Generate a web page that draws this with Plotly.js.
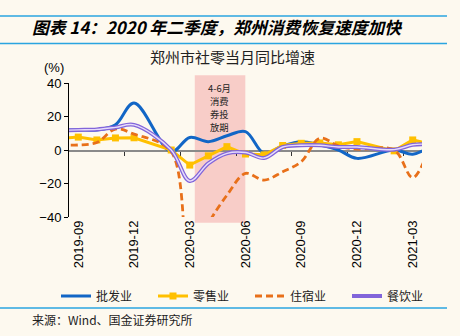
<!DOCTYPE html>
<html>
<head>
<meta charset="utf-8">
<script src="https://cdn.plot.ly/plotly-3.0.1.min.js"></script>
<style>
  html, body { margin: 0; padding: 0; background: #FDF9EF; }
  #chart { width: 460px; height: 336px; }
</style>
</head>
<body>
<div id="chart"></div>
<script>
// ---- data (monthly, YoY %) ----
const months = ['2019-08','2019-09','2019-10','2019-11','2019-12','2020-01','2020-02','2020-03','2020-04','2020-05','2020-06',
                '2020-07','2020-08','2020-09','2020-10','2020-11','2020-12','2021-01','2021-02','2021-03','2021-04'];
const tickMonths = ['2019-09','2019-12','2020-03','2020-06','2020-09','2020-12','2021-03'];
const wholesale = [12, 12, 12, 15, 28, null, -1, 7.5, 5, 8.5, 11, -2, 2.5, 5, 3, 0, -5, null, 0, -2.5, 2.5];
const retail    = [7, 7.7, 6, 7.2, 7.3, null, 0, -9, -3.5, 2, -2.4, -2.9, 2.7, 4, 4.2, 3.1, 5, null, -0.5, 6, 3.5];
const lodging   = [3, 3, 4.5, 12.5, 9.5, null, -1, -68, -44, -27, -14, -18, -13, -7, 7, 2.5, 0.5, null, 0, -16.5, 5];
const catering  = [11.7, 12, 12.3, 13.5, 15, null, 0, -18.5, -8, -2, -1.5, -4.8, 1.8, 2.8, 2.8, 1.8, 1.8, null, 0.2, 3.1, 3.5];
const seriesNames = ['批发业', '零售业', '住宿业', '餐饮业'];
const voucherPeriod = ['2020-04', '2020-06'];   // 4-6月 消费券投放期
const voucherLabel = ['4-6月', '消费', '券投', '放期'];

const xi = months.map((m, i) => i);
const xr = [0.5, 19.5];

// layout geometry helpers (pixels -> paper)
const W = 460, H = 336, mL = 69, mR = 38, mT = 83, mB = 119;
const pw = W - mL - mR, ph = H - mT - mB;
const px2x = p => (p - mL) / pw;
const py2y = p => (H - mB - p) / ph;
const d2x = v => (v - xr[0]) / (xr[1] - xr[0]);

const cjk = '"Noto Sans CJK SC", "Noto Sans", sans-serif';
const latin = '"Liberation Sans", Arial, sans-serif';

const traces = [
  { x: xi, y: wholesale, name: seriesNames[0], type: 'scatter', mode: 'lines', connectgaps: true,
    line: { color: '#1266C6', width: 3, shape: 'spline', smoothing: 1 } },
  { x: xi, y: retail, name: seriesNames[1], type: 'scatter', mode: 'lines+markers', connectgaps: true,
    line: { color: '#FFC000', width: 3 }, marker: { symbol: 'square', size: 7, color: '#FFC000' } },
  { x: xi, y: lodging, name: seriesNames[2], type: 'scatter', mode: 'lines', connectgaps: true,
    line: { color: '#E8701A', width: 2.8, dash: '7px,4px', shape: 'spline', smoothing: 1 } },
  { x: xi, y: catering, name: seriesNames[3], type: 'scatter', mode: 'lines', connectgaps: true,
    line: { color: '#8265DA', width: 4, shape: 'spline', smoothing: 1 } },
  { x: xi, y: catering, name: seriesNames[3], type: 'scatter', mode: 'lines', connectgaps: true, showlegend: false,
    hoverinfo: 'skip', line: { color: '#E6DCFB', width: 1.4, shape: 'spline', smoothing: 1 } },
  { x: [], y: [], xaxis: 'x2', yaxis: 'y', showlegend: false, type: 'scatter', mode: 'lines' }
];

const p0 = months.indexOf(voucherPeriod[0]) - 0.73;
const p1 = months.indexOf(voucherPeriod[1]) - 0.01;

const headerLine = py => ({ type: 'line', xref: 'paper', yref: 'paper', x0: px2x(0), x1: px2x(447),
  y0: py2y(py), y1: py2y(py), line: { color: '#2AA5E0', width: 1.5 } });

const labelYs = [87.5, 100.5, 113.5, 126.5];
const voucherAnn = voucherLabel.map((t, k) => ({
  text: t, xref: 'paper', yref: 'paper', x: px2x(219), y: py2y(labelYs[k]),
  xanchor: 'center', yanchor: 'middle', showarrow: false, borderpad: 0,
  font: { family: cjk, size: 9.3, color: '#222' }
}));

const layout = {
  width: W, height: H,
  margin: { l: mL, r: mR, t: mT, b: mB, pad: 0 },
  paper_bgcolor: '#FDF9EF', plot_bgcolor: 'rgba(0,0,0,0)',
  showlegend: true,
  font: { family: latin, size: 13, color: '#000' },
  xaxis: {
    range: xr, showgrid: false, zeroline: false, showline: false, ticks: '',
    tickvals: tickMonths.map(m => months.indexOf(m)), ticktext: tickMonths,
    tickangle: -90, tickfont: { family: latin, size: 13, color: '#000' }
  },
  xaxis2: {
    overlaying: 'x', anchor: 'free', position: 0.5, range: xr,
    showgrid: false, zeroline: false, showline: true, linecolor: '#8A8A8A', linewidth: 1.5,
    ticks: 'outside', ticklen: 4, tickcolor: '#333', tickwidth: 1,
    tickvals: [3.5, 6.5, 9.5, 12.5, 15.5, 18.5], showticklabels: false, layer: 'below traces'
  },
  yaxis: {
    range: [-40, 40], tickvals: [-40, -20, 0, 20, 40], showgrid: false, zeroline: false,
    showline: true, linecolor: '#000', linewidth: 1, ticks: 'outside', ticklen: 4, tickcolor: '#000',
    tickfont: { family: latin, size: 13, color: '#000' }
  },
  legend: {
    orientation: 'h', x: px2x(56), xanchor: 'left', y: py2y(296), yanchor: 'middle',
    bgcolor: 'rgba(0,0,0,0)', font: { family: cjk, size: 12, color: '#222' },
    entrywidth: 52, tracegroupgap: 0
  },
  shapes: [
    { type: 'rect', xref: 'paper', yref: 'paper', x0: d2x(p0), x1: d2x(p1), y0: py2y(222.7), y1: py2y(75.3),
      fillcolor: '#F8CDC8', line: { width: 0 }, layer: 'below' },
    headerLine(16), headerLine(43.5), headerLine(308)
  ],
  annotations: [
    { text: '图表 14：2020 年二季度，郑州消费恢复速度加快', xref: 'paper', yref: 'paper',
      x: px2x(217), y: py2y(27.5), xanchor: 'center', yanchor: 'middle', showarrow: false,
      font: { family: cjk, size: 16.8, color: '#000', weight: 700, style: 'italic' } },
    { text: '郑州市社零当月同比增速', xref: 'paper', yref: 'paper',
      x: px2x(232.5), y: py2y(56.7), xanchor: 'center', yanchor: 'middle', showarrow: false,
      font: { family: cjk, size: 15, color: '#222' } },
    { text: '(%)', xref: 'paper', yref: 'paper', x: px2x(54), y: py2y(67.5),
      xanchor: 'center', yanchor: 'middle', showarrow: false, font: { family: latin, size: 13, color: '#000' } },
    ...voucherAnn,
    { text: '来源：Wind、国金证券研究所', xref: 'paper', yref: 'paper', x: px2x(30), y: py2y(319.5),
      xanchor: 'left', yanchor: 'middle', showarrow: false, font: { family: cjk, size: 12, color: '#222' } }
  ]
};

Plotly.newPlot('chart', traces, layout, { displayModeBar: false, staticPlot: true });
</script>
</body>
</html>
